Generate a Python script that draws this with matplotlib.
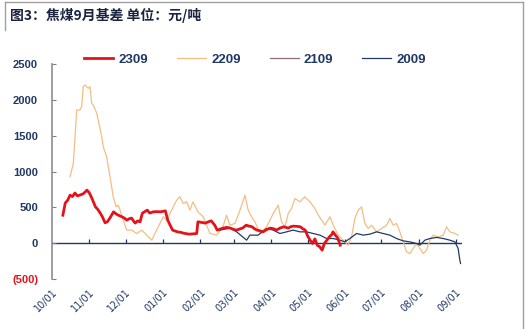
import numpy as np
import pandas as pd
import matplotlib.pyplot as plt
import matplotlib.dates as mdates
from matplotlib.lines import Line2D

plt.rcParams['font.family'] = ['Noto Sans CJK SC', 'DejaVu Sans']

# days counted from 10/01 of the season start
start = pd.Timestamp('2022-10-01')

red_days = [9, 11, 13, 15, 17, 19, 21, 23, 26, 29, 31, 33, 36, 38, 40, 42, 44, 46, 48, 51,
            53, 55, 58, 60, 62, 64, 66, 68, 69, 71, 73, 75, 77, 79, 81, 84, 87, 90, 94, 96,
            98, 100, 102, 104, 107, 109, 112, 114, 117, 120, 121, 124, 127, 130, 132, 135, 137, 140, 142, 145,
            148, 151, 153, 156, 158, 161, 163, 166, 168, 170, 173, 175, 178, 181, 184, 186, 189, 192, 194, 196,
            198, 200, 203, 206, 208, 210, 212, 214, 216, 218, 220, 222, 224, 226, 228, 230, 232, 233, 235, 237, 239]
red_vals = [390, 560, 600, 670, 650, 700, 660, 670, 690, 740, 700, 630, 507, 470, 420, 360, 284, 300, 350, 437,
            410, 390, 368, 350, 321, 340, 350, 300, 280, 310, 298, 420, 440, 461, 420, 437, 440, 437, 451, 321,
            250, 182, 170, 158, 150, 140, 130, 126, 130, 135, 298, 290, 280, 300, 312, 250, 182, 200, 210, 220,
            210, 190, 182, 200, 210, 251, 240, 228, 200, 182, 170, 158, 190, 210, 200, 182, 210, 228, 220, 210,
            230, 237, 235, 228, 200, 182, 100, 42, -5, 60, -30, -50, -98, 0, 42, 88, 120, 158, 112, 70, -28]

tan_days = [15, 17.7, 19.1, 20.5, 23.2, 24.6, 25.9, 27.4, 30.1, 31.5, 32.9, 34.2, 37.1, 39.8, 41.2, 42.5, 45.3, 48.1, 50.8, 53.1,
            55, 56.4, 59.1, 61.9, 66.1, 70.2, 74.4, 78.5, 82.7, 85.4, 88.1, 92.3, 95.1, 99.2, 103.4, 106.1, 108.8, 111.7, 114.4, 116.9,
            121, 125.4, 128.2, 131, 136.5, 141.7, 144.8, 147.5, 151.7, 155.9, 160, 162.7, 165.5, 168.3, 172.4, 178, 183.5, 187.6, 190.4, 193.2,
            195.9, 198.7, 201.4, 205.6, 209.7, 213.9, 218, 220.8, 223.6, 226.3, 230.5, 233.2, 237.3, 241.5, 245.6, 248.4, 251.2, 253.9, 256.7, 259.5,
            262.2, 265, 269.2, 273.3, 277.5, 280.2, 282.9, 285.7, 288.5, 291.2, 294, 296.8, 299.5, 302.3, 305.1, 307.8, 310.6, 313.4, 316.1, 320.2,
            324.4, 327.2, 329.9, 334.1, 336.8]
tan_vals = [926, 1117, 1485, 1858, 1858, 1904, 2184, 2207, 2161, 2184, 1952, 1928, 1812, 1602, 1485, 1345, 1206, 926, 647, 507,
            531, 461, 321, 182, 182, 135, 182, 112, 42, 135, 228, 368, 321, 461, 600, 647, 554, 577, 461, 577,
            437, 368, 251, 135, 112, 228, 391, 251, 275, 461, 670, 461, 368, 298, 135, 228, 415, 531, 298, 228,
            415, 484, 624, 577, 647, 577, 484, 391, 321, 251, 368, 251, 112, 42, -28, 88, 345, 461, 507, 275,
            205, 251, 158, 205, 251, 345, 251, 275, 158, 18, -122, -144, -74, -5, -74, -144, -98, 42, 112, 88,
            112, 228, 158, 135, 112]

c2109_days = []
c2109_vals = []

navy_days = [139.3, 147.6, 153.1, 161.4, 164.1, 171, 178, 183.5, 189, 194.6, 200, 205.6, 211.1, 216.6, 222.2, 227.7, 233.2, 238.8, 242.9, 247,
             252.6, 258.1, 263.6, 269.2, 274.6, 280.2, 285.7, 291.2, 296.8, 302.3, 305.1, 309.2, 313.4, 318.9, 324.4, 329.9, 334.1, 336.8, 338.2, 338.8]
navy_vals = [182, 210, 158, 42, 112, 112, 205, 182, 135, 158, 182, 158, 158, 135, 112, 65, 65, 42, 18, 65,
             135, 112, 126, 158, 135, 112, 65, 32, 18, -5, -28, 42, 65, 80, 65, 42, 18, -74, -237, -284]

labels = ['2309', '2209', '2109', '2009']
colors = ['#E3131B', '#F2BE84', '#8E6F73', '#233A66']
widths = [2.0, 0.9, 0.9, 0.9]
y_ticks = [-500, 0, 500, 1000, 1500, 2000, 2500]
y_labels = ['(500)', '0', '500', '1000', '1500', '2000', '2500']

navy = '#1F3864'
num_font = ['Liberation Sans', 'DejaVu Sans']

def to_dates(days):
    return [start + pd.Timedelta(days=float(d)) for d in days]

fig = plt.figure(figsize=(5.26, 3.29), dpi=100)
ax = fig.add_axes([52/526, 1-279/329, 410/526, 215/329])

series = [(red_days, red_vals), (tan_days, tan_vals), (c2109_days, c2109_vals), (navy_days, navy_vals)]
handles = []
for (d, v), lab, col, lw in zip(series, labels, colors, widths):
    ax.plot(to_dates(d), v, color=col, lw=lw, zorder=3 if lab == '2309' else 2)
    handles.append(Line2D([], [], color=col, lw=lw, label=lab))

ax.set_ylim(-500, 2500)
ax.set_xlim(start, start + pd.Timedelta(days=340))
ax.set_yticks(y_ticks)
ax.set_yticklabels(y_labels)
for t in ax.get_yticklabels():
    t.set_fontweight('bold')
    t.set_family(num_font)
    t.set_color('#E3131B' if t.get_text().startswith('(') else navy)
ax.tick_params(axis='y', direction='in', length=3, color='#808080', pad=10, labelsize=8)

months = pd.date_range(start, periods=12, freq='MS')
ax.set_xticks(months)
ax.xaxis.set_major_formatter(mdates.DateFormatter('%m/%d'))
ax.tick_params(axis='x', length=0, pad=6, labelsize=7, labelcolor=navy)
for t in ax.get_xticklabels():
    t.set_rotation(45)
    t.set_ha('right')
    t.set_rotation_mode('anchor')
    t.set_family(['Verdana', 'DejaVu Sans'])

for s in ['top', 'right', 'bottom']:
    ax.spines[s].set_visible(False)
ax.spines['left'].set_color('#8c8c8c')
ax.spines['left'].set_linewidth(1.2)

# zero line with small month ticks pointing up
ax.axhline(0, color=navy, lw=1.0, zorder=1)
ax.vlines(months[1:], 0, 55, color=navy, lw=0.9, zorder=1)

leg = fig.legend(handles=handles, loc='center', bbox_to_anchor=(255/526, 1-60/329), ncol=4,
                 frameon=False, handlelength=2.2, columnspacing=2.2, handletextpad=0.4,
                 prop={'weight': 'bold', 'size': 9.5, 'family': num_font})
for t in leg.get_texts():
    t.set_color(navy)

fig.text(10/526, 1-15/329, '图3：焦煤9月基差 单位：元/吨', fontsize=10, fontweight='bold',
         color='#1a2340', va='center', ha='left')

# frame around the chart
frame = '#a0a0a0'
fig.add_artist(Line2D([5/526, 523/526], [1-2/329, 1-2/329], color=frame, lw=1))
fig.add_artist(Line2D([5/526, 5/526], [1-2/329, 1-30/329], color=frame, lw=1))
fig.add_artist(Line2D([523/526, 523/526], [1-2/329, 0], color=frame, lw=1))

fig.savefig('out.png', dpi=100)
